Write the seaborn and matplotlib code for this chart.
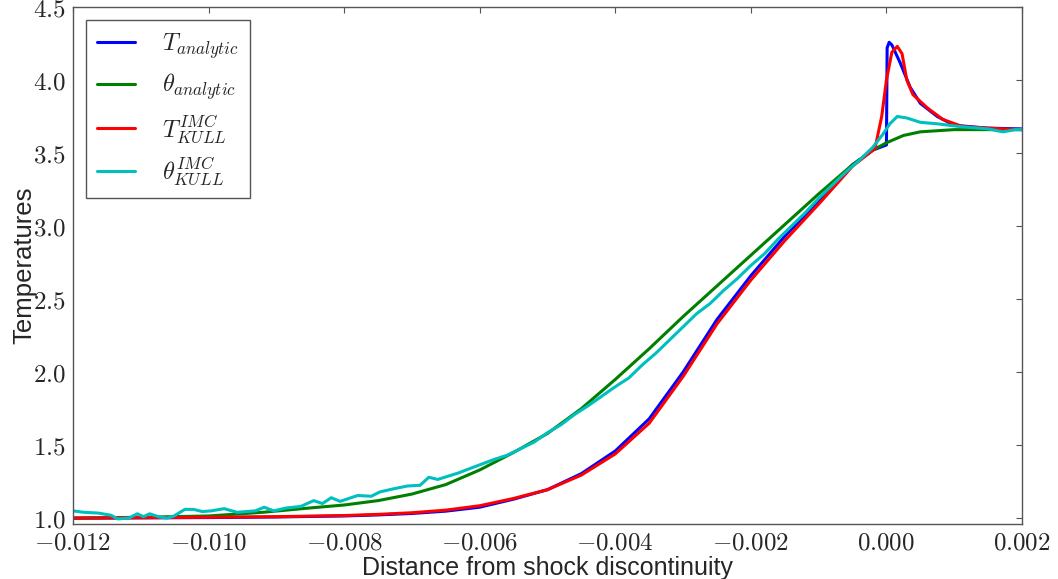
import numpy as np
import pandas as pd
import seaborn as sns
import matplotlib.pyplot as plt
from matplotlib.ticker import FixedLocator, FixedFormatter

# values
x_T = [-0.012, -0.011, -0.010, -0.009, -0.008, -0.0075, -0.007, -0.0065, -0.006, -0.0055,
       -0.005, -0.0045, -0.004, -0.0035, -0.003, -0.0025, -0.002, -0.0015, -0.001,
       -0.0005, -0.0002, 0.0, 0.00001, 0.00004, 0.00008, 0.0002, 0.00035, 0.0005,
       0.00075, 0.001, 0.0015, 0.002]
T_analytic = [1.0, 1.002, 1.004, 1.008, 1.015, 1.022, 1.032, 1.048, 1.075, 1.13,
              1.195, 1.305, 1.46, 1.68, 2.00, 2.36, 2.66, 2.93, 3.17,
              3.42, 3.52, 3.555, 4.22, 4.258, 4.24, 4.12, 3.95, 3.84,
              3.75, 3.69, 3.67, 3.665]

x_Tk = [-0.012, -0.011, -0.010, -0.009, -0.008, -0.0075, -0.007, -0.0065, -0.006, -0.0055,
        -0.005, -0.0045, -0.004, -0.0035, -0.003, -0.0025, -0.002, -0.0015, -0.001,
        -0.0005, -0.00017, -0.00007, 0.0, 0.00008, 0.00016, 0.00023, 0.0003, 0.00039,
        0.0006, 0.00083, 0.00113, 0.00172, 0.002]
T_kull = [1.0, 1.003, 1.006, 1.01, 1.018, 1.026, 1.037, 1.055, 1.085, 1.135,
          1.195, 1.295, 1.44, 1.65, 1.97, 2.33, 2.63, 2.90, 3.15,
          3.41, 3.53, 3.75, 4.0, 4.19, 4.23, 4.18, 4.0, 3.90,
          3.81, 3.73, 3.68, 3.665, 3.66]

x_th = [-0.012, -0.011, -0.010, -0.0092, -0.0085, -0.008, -0.0075, -0.007, -0.0065, -0.006,
        -0.0055, -0.005, -0.0045, -0.004, -0.0035, -0.003, -0.0025, -0.002, -0.0015,
        -0.001, -0.0005, -0.0002, 0.0, 0.00025, 0.0005, 0.001, 0.002]
theta_analytic = [1.0, 1.006, 1.015, 1.04, 1.07, 1.09, 1.12, 1.165, 1.23, 1.33,
                  1.45, 1.58, 1.75, 1.95, 2.16, 2.38, 2.59, 2.80, 3.01,
                  3.22, 3.42, 3.52, 3.57, 3.62, 3.645, 3.66, 3.66]

x_thk = [-0.012, -0.01184, -0.01163, -0.01144, -0.01134, -0.01118, -0.01105, -0.01096,
         -0.01087, -0.01074, -0.01061, -0.01051, -0.01035, -0.01022, -0.01009, -0.00996,
         -0.00977, -0.00958, -0.00931, -0.00918, -0.00904, -0.00885, -0.00864, -0.00845,
         -0.00832, -0.00819, -0.00806, -0.00780, -0.00760, -0.00747, -0.00728, -0.00707,
         -0.00688, -0.00675, -0.00662, -0.00631, -0.0062, -0.0060, -0.0058, -0.0056,
         -0.0054, -0.0052, -0.0050, -0.0048, -0.0046, -0.0044, -0.0042, -0.0040, -0.0038,
         -0.0036, -0.0034, -0.0032, -0.0030, -0.0028, -0.0026, -0.0024, -0.0022, -0.0020,
         -0.0018, -0.0016, -0.0014, -0.0012, -0.0010, -0.0008, -0.0006, -0.0004, -0.0002,
         -0.00005, 0.00005, 0.00016, 0.0003, 0.0005, 0.00075, 0.0011, 0.0015, 0.00172,
         0.0019, 0.002]
theta_kull = [1.05, 1.04, 1.035, 1.02, 0.995, 1.0, 1.03, 1.01,
              1.03, 1.01, 1.0, 1.015, 1.06, 1.06, 1.045, 1.05,
              1.065, 1.04, 1.05, 1.075, 1.05, 1.07, 1.08, 1.12,
              1.10, 1.14, 1.115, 1.155, 1.15, 1.18, 1.20, 1.22,
              1.225, 1.28, 1.265, 1.31, 1.33, 1.365, 1.40, 1.43,
              1.475, 1.52, 1.585, 1.64, 1.71, 1.77, 1.835, 1.90, 1.96,
              2.05, 2.13, 2.22, 2.31, 2.40, 2.47, 2.56, 2.64, 2.73,
              2.81, 2.91, 3.00, 3.09, 3.19, 3.28, 3.37, 3.45, 3.54,
              3.63, 3.70, 3.75, 3.74, 3.71, 3.70, 3.68, 3.665, 3.645,
              3.66, 3.66]

xticks = [-0.012, -0.010, -0.008, -0.006, -0.004, -0.002, 0.000, 0.002]
yticks = [1.0, 1.5, 2.0, 2.5, 3.0, 3.5, 4.0, 4.5]

sns.set_style("white")
plt.rcParams['mathtext.fontset'] = 'cm'
plt.rcParams['font.family'] = ['Liberation Sans', 'DejaVu Sans']

fig = plt.figure(figsize=(10.58, 5.79), dpi=100)
ax = fig.add_axes([0.069, 0.095, 0.897, 0.893])

series = [
    (x_T, T_analytic, '#0000ff', r'$T_{analytic}$'),
    (x_th, theta_analytic, '#008000', r'$\theta_{analytic}$'),
    (x_Tk, T_kull, '#ff0000', r'$T^{IMC}_{KULL}$'),
    (x_thk, theta_kull, '#00bfbf', r'$\theta^{IMC}_{KULL}$'),
]
for xs, ys, col, lab in series:
    df = pd.DataFrame({'x': xs, 'y': ys})
    sns.lineplot(data=df, x='x', y='y', ax=ax, color=col, linewidth=2.2,
                 estimator=None, sort=False, label=lab)

ax.set_xlim(-0.012, 0.002)
ax.set_ylim(0.96, 4.5)
ax.xaxis.set_major_locator(FixedLocator(xticks))
ax.xaxis.set_major_formatter(FixedFormatter(['$%.3f$' % v for v in xticks]))
ax.yaxis.set_major_locator(FixedLocator(yticks))
ax.yaxis.set_major_formatter(FixedFormatter(['$%.1f$' % v for v in yticks]))
ax.tick_params(direction='in', length=4, width=0.8, color='#555555',
               top=True, right=True, labelsize=18, pad=5)
for s in ax.spines.values():
    s.set_color('#555555')
    s.set_linewidth(1.0)

ax.set_xlabel('Distance from shock discontinuity', fontsize=18, labelpad=1)
ax.set_ylabel('Temperatures', fontsize=18.5, labelpad=-2)

leg = ax.legend(loc='upper left', fontsize=17.5, frameon=True, fancybox=False,
                framealpha=1, edgecolor='#555555', handlelength=1.55,
                borderpad=0.45, labelspacing=0.45, borderaxespad=0.55, handletextpad=1.1)
leg.get_frame().set_linewidth(1.0)

fig.savefig('out.png', dpi=100)
